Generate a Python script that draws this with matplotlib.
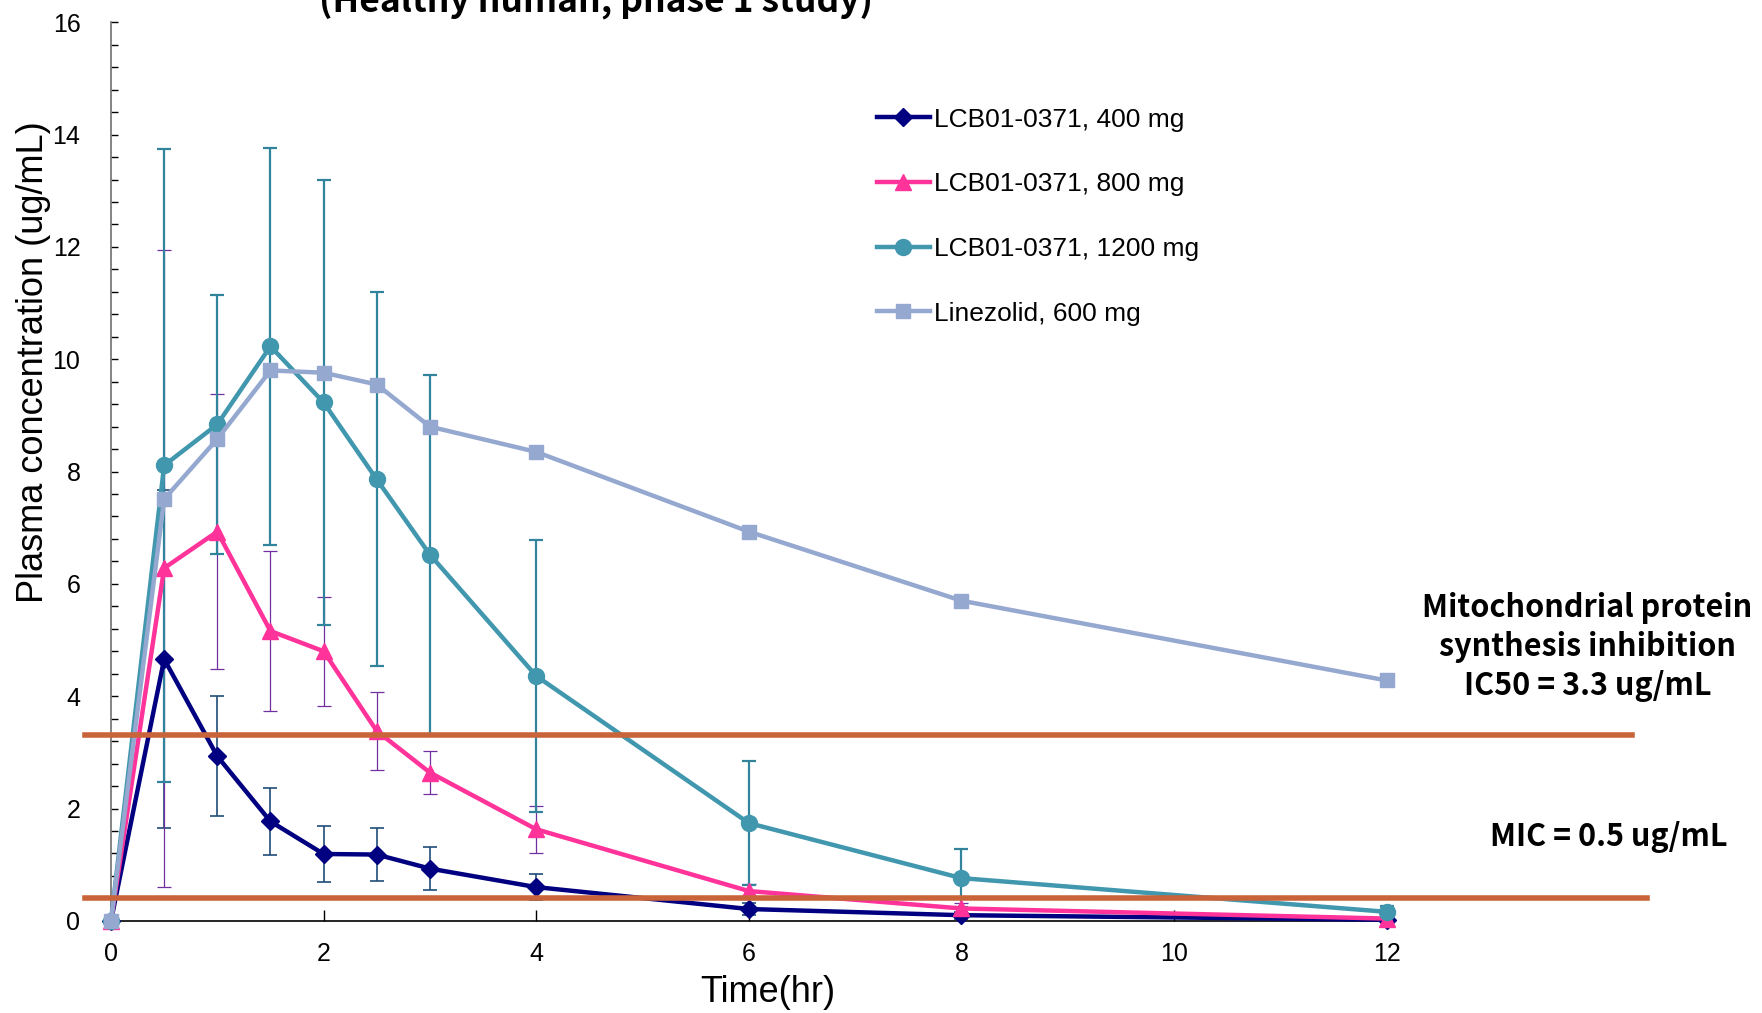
import matplotlib
matplotlib.use("Agg")
import matplotlib.pyplot as plt

# sampling times (hr)
times = [0, 0.5, 1, 1.5, 2, 2.5, 3, 4, 6, 8, 12]

# mean plasma concentrations (ug/mL)
lcb_400 = [0, 4.66, 2.93, 1.77, 1.19, 1.18, 0.93, 0.60, 0.21, 0.10, 0.02]
lcb_800 = [0, 6.28, 6.93, 5.16, 4.80, 3.38, 2.64, 1.63, 0.53, 0.22, 0.04]
lcb_1200 = [0, 8.11, 8.84, 10.23, 9.23, 7.86, 6.52, 4.36, 1.74, 0.76, 0.16]
linezolid = [0, 7.51, 8.58, 9.80, 9.76, 9.55, 8.80, 8.35, 6.93, 5.70, 4.28]

# standard deviations
sd_400 = [0, 3.01, 1.07, 0.59, 0.49, 0.47, 0.39, 0.23, 0.10, 0.06, 0.02]
sd_800 = [0, 5.67, 2.45, 1.42, 0.97, 0.69, 0.38, 0.42, 0.12, 0.10, 0.03]
sd_1200 = [0, 5.63, 2.30, 3.54, 3.97, 3.33, 3.20, 2.42, 1.10, 0.52, 0.10]

labels = ["LCB01-0371, 400 mg", "LCB01-0371, 800 mg",
          "LCB01-0371, 1200 mg", "Linezolid, 600 mg"]

ic50_level = 3.3
mic_level = 0.4

arial = ["Liberation Sans", "DejaVu Sans"]
kor = ["Noto Sans CJK KR", "DejaVu Sans"]

fig = plt.figure(figsize=(17.62, 10.13), dpi=100)
ax = fig.add_axes([0.063, 0.091, 0.727, 0.887])

e1 = ax.errorbar(times, lcb_400, yerr=sd_400, color="#000080", marker="D",
                 ms=9, lw=3.2, ecolor="#1F4E79", elinewidth=1.2, capsize=5,
                 capthick=1.2, clip_on=False, zorder=3)
e2 = ax.errorbar(times, lcb_800, yerr=sd_800, color="#FF3399", marker="^",
                 ms=11, lw=3.2, ecolor="#7030A0", elinewidth=0.9, capsize=5,
                 capthick=0.9, clip_on=False, zorder=3)
e3 = ax.errorbar(times, lcb_1200, yerr=sd_1200, color="#4097AE", marker="o",
                 ms=11.5, lw=3.2, ecolor="#31849B", elinewidth=1.6, capsize=5,
                 capthick=1.6, clip_on=False, zorder=3)
l4, = ax.plot(times, linezolid, color="#95A8D0", marker="s", ms=10.5, lw=3.2,
              clip_on=False, zorder=4)

ax.set_xlim(0, 12.05)
ax.set_ylim(0, 16)
ax.set_xticks([0, 2, 4, 6, 8, 10, 12])
ax.set_yticks(range(0, 17, 2))
ax.set_yticks([i * 0.4 for i in range(41)], minor=True)

for s in ["top", "right"]:
    ax.spines[s].set_visible(False)
ax.spines["left"].set_color("#707070")
ax.spines["left"].set_linewidth(1.2)
ax.spines["bottom"].set_linewidth(1.2)

ax.tick_params(axis="y", which="both", direction="in", length=5, width=1,
               pad=22, labelsize=18, colors="black")
ax.tick_params(axis="x", direction="in", length=8, width=1, pad=15,
               labelsize=18)
for t in ax.get_xticklabels() + ax.get_yticklabels():
    t.set_family(arial)

ax.set_xlabel("Time(hr)", fontsize=26, family=arial)
ax.set_ylabel("Plasma concentration (ug/mL)", fontsize=26, family=arial)
ax.xaxis.set_label_coords(0.513, -0.060)
ax.yaxis.set_label_coords(-0.047, 0.622)

# threshold lines extend beyond the plot area
ax.plot([-0.24, 14.31], [ic50_level, ic50_level], color="#C9643A", lw=4,
        clip_on=False, zorder=5)
ax.plot([-0.24, 14.45], [mic_level, mic_level], color="#C9643A", lw=4,
        clip_on=False, zorder=5)

ax.legend([e1[0], e2[0], e3[0], l4], labels, loc="upper left",
          bbox_to_anchor=(0.598, 0.905), frameon=False,
          prop={"family": arial, "size": 19}, handlelength=2.0,
          handletextpad=0.15, labelspacing=1.54, borderpad=0,
          borderaxespad=0)

fig.text(0.338, 0.9886, "(Healthy human, phase 1 study)", ha="center",
         va="baseline", fontsize=25.5, fontweight="bold", family=kor)

fig.text(0.901, 0.361,
         "Mitochondrial protein\nsynthesis inhibition\nIC50 = 3.3 ug/mL",
         ha="center", va="center", multialignment="center", fontsize=22,
         fontweight="bold", linespacing=1.28, family=kor)
fig.text(0.913, 0.174, "MIC = 0.5 ug/mL", ha="center", va="center",
         fontsize=22, fontweight="bold", family=kor)

fig.savefig("out.png", dpi=100)
